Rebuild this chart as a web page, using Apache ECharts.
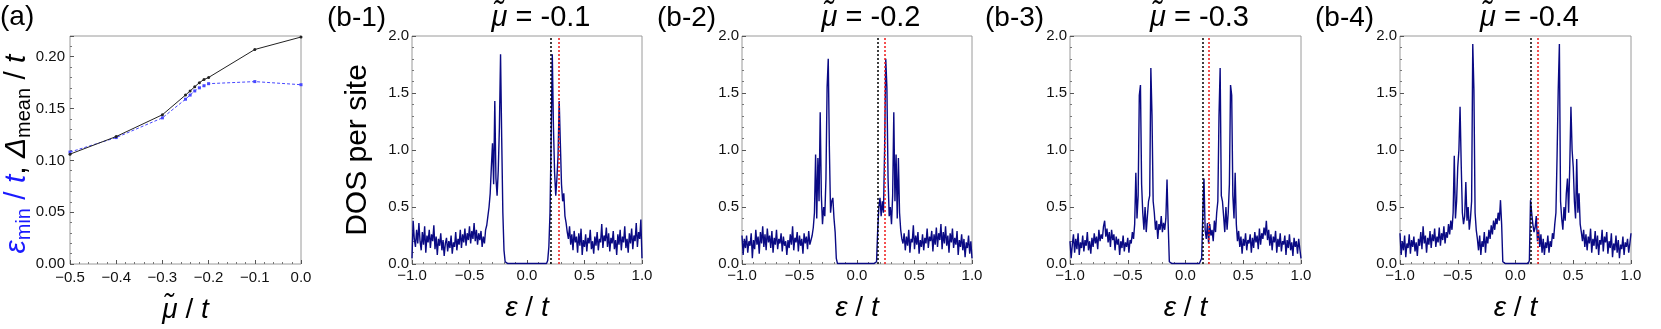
<!DOCTYPE html>
<html>
<head>
<meta charset="utf-8">
<title>DOS panels</title>
<script src="https://cdn.jsdelivr.net/npm/echarts@6/dist/echarts.min.js"></script>
<style>
html, body { margin: 0; padding: 0; background: #fff; }
#main { width: 1661px; height: 329px; }
</style>
</head>
<body>
<div id="main"></div>
<script>
// ---- panel (a): gap vs chemical potential ----
const muValues  = [-0.5, -0.4, -0.3, -0.25, -0.24, -0.23, -0.22, -0.21, -0.2, -0.1, 0.0];
const deltaMean = [0.106, 0.123, 0.144, 0.163, 0.167, 0.171, 0.175, 0.178, 0.180, 0.207, 0.219];
const epsMin    = [0.108, 0.122, 0.141, 0.159, 0.163, 0.167, 0.170, 0.172, 0.174, 0.176, 0.173];

// ---- panels (b): DOS per site, sampled every 0.01 from -1 to 1 ----
const EPS_START = -1, EPS_STEP = 0.01;
const panelMu = ['-0.1', '-0.2', '-0.3', '-0.4'];
const blackLine = [0.207, 0.183, 0.146, 0.131];
const redLine = [0.277, 0.241, 0.203, 0.188];

const dos1 = [
  0.05, 0.38, 0.22, 0.15, 0.30, 0.18, 0.36, 0.20, 0.12, 0.28,
  0.17, 0.33, 0.10, 0.25, 0.19, 0.30, 0.14, 0.26, 0.20, 0.34,
  0.13, 0.24, 0.08, 0.22, 0.16, 0.27, 0.12, 0.21, 0.07, 0.18,
  0.23, 0.11, 0.20, 0.14, 0.25, 0.09, 0.19, 0.15, 0.28, 0.12,
  0.22, 0.17, 0.30, 0.14, 0.26, 0.19, 0.31, 0.16, 0.27, 0.21,
  0.33, 0.18, 0.29, 0.22, 0.36, 0.20, 0.30, 0.17, 0.27, 0.21,
  0.29, 0.15, 0.24, 0.18, 0.30,
  0.34, 0.42, 0.50, 0.62, 0.85, 1.06, 0.70, 1.43, 0.75, 0.60,
  0.82, 1.20, 1.84, 1.10, 0.45, 0.12, 0.02, 0.005,
  0.005, 0.005, 0.005, 0.005, 0.005, 0.005, 0.005, 0.005, 0.005, 0.005,
  0.005, 0.005, 0.005, 0.005, 0.005, 0.005, 0.005, 0.005, 0.005, 0.005,
  0.005, 0.005, 0.005, 0.005, 0.005, 0.005, 0.005, 0.005, 0.005, 0.005,
  0.005, 0.005, 0.005, 0.005,
  0.005, 0.03, 0.15, 0.45, 1.10, 1.84, 1.20, 0.80, 0.60, 0.75,
  0.95, 1.43, 1.06, 0.70, 0.55, 0.62, 0.42, 0.36, 0.28,
  0.22, 0.33, 0.17, 0.26, 0.12, 0.29, 0.19, 0.24, 0.10, 0.27,
  0.16, 0.31, 0.08, 0.21, 0.15, 0.26, 0.11, 0.23, 0.18, 0.30,
  0.13, 0.20, 0.09, 0.24, 0.16, 0.28, 0.12, 0.22, 0.19, 0.35,
  0.14, 0.25, 0.20, 0.32, 0.15, 0.27, 0.11, 0.23, 0.18, 0.29,
  0.13, 0.21, 0.08, 0.26, 0.17, 0.30, 0.12, 0.24, 0.19, 0.33,
  0.14, 0.22, 0.10, 0.27, 0.18, 0.31, 0.13, 0.25, 0.20, 0.36,
  0.15, 0.28, 0.22, 0.39, 0.05
];

const dos2 = [
  0.25, 0.08, 0.22, 0.14, 0.25, 0.10, 0.20, 0.16, 0.27, 0.05,
  0.21, 0.13, 0.30, 0.17, 0.24, 0.09, 0.28, 0.18, 0.33, 0.15,
  0.26, 0.12, 0.31, 0.19, 0.25, 0.14, 0.29, 0.10, 0.23, 0.17,
  0.30, 0.13, 0.22, 0.18, 0.27, 0.11, 0.24, 0.16, 0.20, 0.08,
  0.21, 0.14, 0.26, 0.17, 0.33, 0.12, 0.23, 0.19, 0.28, 0.11,
  0.25, 0.16, 0.22, 0.09, 0.27, 0.18, 0.24, 0.13, 0.29, 0.17,
  0.21,
  0.25, 0.32, 0.45, 0.96, 0.40, 0.93, 0.55, 1.33, 0.60, 0.35,
  0.50, 0.42, 0.75, 1.55, 1.80, 1.00, 0.45, 0.55, 0.58, 0.40,
  0.28, 0.05, 0.005,
  0.005, 0.005, 0.005, 0.005, 0.005, 0.005, 0.005, 0.005, 0.005, 0.005,
  0.005, 0.005, 0.005, 0.005, 0.005, 0.005, 0.005, 0.005, 0.005, 0.005,
  0.005, 0.005, 0.005, 0.005, 0.005, 0.005, 0.005, 0.005, 0.005, 0.005,
  0.005, 0.005, 0.005,
  0.02, 0.30, 0.50, 0.58, 0.42, 0.55, 0.45, 1.00, 1.80, 1.55,
  0.75, 0.42, 0.50, 0.35, 0.60, 1.33, 0.55, 0.96, 0.40, 0.93,
  0.45, 0.30, 0.22,
  0.18, 0.27, 0.12, 0.24, 0.16, 0.30, 0.10, 0.22, 0.19, 0.34,
  0.13, 0.25, 0.17, 0.28, 0.09, 0.21, 0.15, 0.26, 0.12, 0.23,
  0.18, 0.31, 0.14, 0.24, 0.20, 0.29, 0.11, 0.26, 0.17, 0.32,
  0.15, 0.27, 0.21, 0.35, 0.13, 0.28, 0.18, 0.33, 0.16, 0.25,
  0.10, 0.27, 0.19, 0.31, 0.14, 0.23, 0.17, 0.29, 0.08, 0.21,
  0.15, 0.26, 0.12, 0.22, 0.06, 0.19, 0.14, 0.25, 0.09, 0.20,
  0.05
];

const dos3 = [
  0.20, 0.05, 0.17, 0.26, 0.10, 0.22, 0.13, 0.27, 0.08, 0.19,
  0.14, 0.25, 0.11, 0.21, 0.16, 0.28, 0.12, 0.20, 0.09, 0.23,
  0.15, 0.27, 0.18, 0.24, 0.13, 0.30, 0.20, 0.26, 0.22, 0.33,
  0.38, 0.24, 0.31, 0.19, 0.28, 0.15, 0.30, 0.21, 0.26, 0.12,
  0.24, 0.17, 0.22, 0.08, 0.20, 0.14, 0.25, 0.11, 0.19, 0.15,
  0.23, 0.10, 0.21, 0.18, 0.28, 0.22,
  0.35, 0.80, 0.40, 0.60, 1.48, 1.57, 0.70, 0.45, 0.30, 0.50,
  0.28, 0.42, 0.55, 0.60, 1.72, 1.30, 0.55, 0.45, 0.30, 0.38,
  0.22, 0.35, 0.30, 0.42, 0.28, 0.36, 0.30, 0.40, 0.74, 0.35,
  0.02,
  0.005, 0.005, 0.005, 0.005, 0.005, 0.005, 0.005, 0.005, 0.005, 0.005,
  0.005, 0.005, 0.005, 0.005, 0.005, 0.005, 0.005, 0.005, 0.005, 0.005,
  0.005, 0.005, 0.005, 0.005, 0.005, 0.005, 0.005,
  0.05, 0.45, 0.75, 0.30, 0.22, 0.36, 0.18, 0.35, 0.25, 0.30,
  0.20, 0.38, 0.28, 0.45, 0.55, 1.30, 1.72, 0.60, 0.55, 0.42,
  0.28, 0.50, 0.30, 0.45, 0.70, 1.57, 1.48, 0.60, 0.40, 0.80,
  0.35,
  0.20, 0.29, 0.15, 0.24, 0.09, 0.22, 0.16, 0.27, 0.12, 0.21,
  0.18, 0.26, 0.10, 0.23, 0.14, 0.28, 0.19, 0.25, 0.13, 0.31,
  0.17, 0.27, 0.22, 0.32, 0.25, 0.38, 0.21, 0.30, 0.16, 0.26,
  0.12, 0.24, 0.19, 0.29, 0.10, 0.22, 0.15, 0.27, 0.11, 0.20,
  0.17, 0.25, 0.08, 0.21, 0.14, 0.26, 0.12, 0.19, 0.07, 0.23,
  0.15, 0.20, 0.09, 0.22, 0.13, 0.05
];

const dos4 = [
  0.27, 0.08, 0.20, 0.12, 0.25, 0.06, 0.18, 0.14, 0.26, 0.09,
  0.21, 0.15, 0.24, 0.11, 0.19, 0.07, 0.22, 0.16, 0.28, 0.13,
  0.33, 0.18, 0.25, 0.10, 0.23, 0.17, 0.29, 0.14, 0.26, 0.20,
  0.31, 0.15, 0.24, 0.19, 0.32, 0.16, 0.27, 0.21, 0.33, 0.18,
  0.28, 0.23, 0.35, 0.26, 0.38,
  0.30, 0.45, 0.95, 0.40, 0.55, 0.85, 1.00, 1.38, 0.87, 0.45,
  0.35, 0.42, 0.72, 0.38, 0.50, 0.30, 0.40, 0.55, 1.93, 1.53,
  0.45, 0.30, 0.22, 0.12, 0.25, 0.08, 0.20, 0.15, 0.28, 0.10,
  0.24, 0.18, 0.30, 0.22, 0.34, 0.26, 0.38, 0.30, 0.40, 0.35,
  0.45, 0.38, 0.56, 0.35, 0.02,
  0.005, 0.005, 0.005, 0.005, 0.005, 0.005, 0.005, 0.005, 0.005, 0.005,
  0.005, 0.005, 0.005, 0.005, 0.005, 0.005, 0.005, 0.005, 0.005, 0.005,
  0.005, 0.005,
  0.03, 0.56, 0.45, 0.35, 0.28, 0.32, 0.42, 0.20, 0.30, 0.15,
  0.26, 0.10, 0.22, 0.08, 0.19, 0.14, 0.25, 0.10, 0.20, 0.15,
  0.27, 0.22, 0.35, 0.45, 0.95, 1.53, 1.93, 0.55, 0.40, 0.30,
  0.50, 0.38, 0.62, 0.75, 0.45, 0.87, 1.38, 1.00, 0.85, 0.55,
  0.40, 0.92, 0.45, 0.62, 0.35,
  0.28, 0.20, 0.30, 0.15, 0.26, 0.12, 0.24, 0.18, 0.31, 0.10,
  0.22, 0.16, 0.29, 0.13, 0.25, 0.08, 0.21, 0.17, 0.30, 0.11,
  0.24, 0.19, 0.28, 0.09, 0.20, 0.14, 0.27, 0.06, 0.18, 0.12,
  0.25, 0.10, 0.21, 0.05, 0.17, 0.13, 0.24, 0.08, 0.19, 0.15,
  0.22, 0.10, 0.18, 0.27
];

const dosPanels = [dos1, dos2, dos3, dos4];

const FONT = '"Liberation Sans", Arial, sans-serif';
const DOS_COLOR = '#0a0a84';
const FRAME = '#9a9a9a';
const BLUE = '#1a1aff';

function fmt(digits) {
    return v => (v < -1e-9 ? '\u2212' : '') + Math.abs(v).toFixed(digits);
}

function toPairs(xs, ys) {
    return ys.map((y, i) => [xs[i], y]);
}

const grids = [
    { left: 70, top: 36, width: 231, height: 229 },
    { left: 412, top: 36, width: 230, height: 228 },
    { left: 742, top: 36, width: 230, height: 228 },
    { left: 1070, top: 36, width: 231, height: 228 },
    { left: 1400, top: 36, width: 231, height: 228 }
].map(g => Object.assign({ show: true, borderColor: FRAME, borderWidth: 1, backgroundColor: 'transparent' }, g));

const tickStyle = {
    axisLine: { show: false, onZero: false },
    axisTick: { show: true, inside: true, length: 4, lineStyle: { color: '#555' } },
    minorTick: { show: true, splitNumber: 5, length: 2, lineStyle: { color: '#777' } },
    splitLine: { show: false }
};

// axis-name rich styles (ECharts text style: color)
const italicRich = {
    i: { fontFamily: FONT, fontSize: 28, fontStyle: 'italic', color: '#000' },
    n: { fontFamily: FONT, fontSize: 28, color: '#000' }
};
// graphic rich styles (zrender style: fill)
const titleRich = {
    i: { fontFamily: FONT, fontSize: 29, fontStyle: 'italic', fill: '#000' },
    n: { fontFamily: FONT, fontSize: 29, fill: '#000' }
};

const xAxes = [];
const yAxes = [];
const series = [];

// panel (a)
xAxes.push(Object.assign({}, tickStyle, {
    type: 'value', gridIndex: 0, min: -0.5, max: 0, interval: 0.1,
    axisLabel: { formatter: fmt(1), fontFamily: FONT, fontSize: 15, color: '#111', margin: 6 },
    name: '{i|\u03BC\u0303}{n| / }{i|t}', nameLocation: 'middle', nameGap: 32,
    nameTextStyle: { rich: italicRich }
}));
yAxes.push(Object.assign({}, tickStyle, {
    type: 'value', gridIndex: 0, min: 0, max: 0.22, interval: 0.05,
    axisLabel: { formatter: fmt(2), fontFamily: FONT, fontSize: 15, color: '#111', margin: 5, showMaxLabel: false }
}));
series.push({
    type: 'line', xAxisIndex: 0, yAxisIndex: 0,
    data: toPairs(muValues, deltaMean),
    symbol: 'circle', symbolSize: 3,
    itemStyle: { color: '#222' },
    lineStyle: { color: '#222', width: 1 },
    z: 3
});
series.push({
    type: 'line', xAxisIndex: 0, yAxisIndex: 0,
    data: toPairs(muValues, epsMin),
    symbol: 'rect', symbolSize: 3,
    itemStyle: { color: '#4848ff' },
    lineStyle: { color: '#4848ff', width: 1, type: [3, 2] },
    z: 2
});

// panels (b-1) .. (b-4)
dosPanels.forEach((vals, k) => {
    const gi = k + 1;
    xAxes.push(Object.assign({}, tickStyle, {
        type: 'value', gridIndex: gi, min: -1, max: 1, interval: 0.5,
        axisLabel: { formatter: fmt(1), fontFamily: FONT, fontSize: 15, color: '#111', margin: 4 },
        name: '{i|\u03B5}{n| / }{i|t}', nameLocation: 'middle', nameGap: 30,
        nameTextStyle: { rich: italicRich }
    }));
    yAxes.push(Object.assign({}, tickStyle, {
        type: 'value', gridIndex: gi, min: 0, max: 2, interval: 0.5,
        axisLabel: { formatter: fmt(1), fontFamily: FONT, fontSize: 15, color: '#111', margin: 3 },
        name: k === 0 ? 'DOS per site' : '', nameLocation: 'middle', nameRotate: 90, nameGap: 39,
        nameTextStyle: { fontFamily: FONT, fontSize: 30, color: '#000' }
    }));
    series.push({
        type: 'line', xAxisIndex: gi, yAxisIndex: gi,
        data: vals.map((v, i) => [+(EPS_START + i * EPS_STEP).toFixed(2), v]),
        showSymbol: false,
        lineStyle: { color: DOS_COLOR, width: 1.4 },
        markLine: {
            silent: true, symbol: 'none', label: { show: false },
            data: [
                { xAxis: blackLine[k], lineStyle: { color: '#000', type: [2, 2], width: 1.5 } },
                { xAxis: redLine[k], lineStyle: { color: '#f01818', type: [2, 2], width: 1.5 } }
            ]
        }
    });
});

// panel labels, titles, rotated y title of (a)
const subRich = (color) => ({
    i: { fontFamily: FONT, fontSize: 30, fontStyle: 'italic', fill: color, lineHeight: 32, verticalAlign: 'top' },
    n: { fontFamily: FONT, fontSize: 30, fill: color, lineHeight: 32, verticalAlign: 'top' },
    s: { fontFamily: FONT, fontSize: 20, fill: color, lineHeight: 20, padding: [15, 0, 0, 0], verticalAlign: 'bottom' }
});
const blueRich = subRich(BLUE);
const blackRich = subRich('#000');
const graphics = [
    { type: 'text', x: 0, y: 17, style: { text: '(a)', font: '28px ' + FONT, fill: '#000', verticalAlign: 'middle' } },
    {
        type: 'text', x: 18, y: 154, rotation: Math.PI / 2,
        style: {
            text: '{bi|\u03B5}{bs|min}{bn| / }{bi|t}{kn|, }{ki|\u0394}{ks|mean}{kn| / }{ki|t}',
            align: 'center', verticalAlign: 'middle',
            rich: {
                bi: blueRich.i, bn: blueRich.n, bs: blueRich.s,
                ki: blackRich.i, kn: blackRich.n, ks: blackRich.s
            }
        }
    }
];
panelMu.forEach((mu, k) => {
    const g = grids[k + 1];
    graphics.push({
        type: 'text', x: g.left - 85, y: 18,
        style: { text: '(b-' + (k + 1) + ')', font: '28px ' + FONT, fill: '#000', verticalAlign: 'middle' }
    });
    graphics.push({
        type: 'text', x: g.left + g.width / 2 + 14, y: 18,
        style: {
            text: '{i|\u03BC\u0303}{n| = ' + mu + '}',
            align: 'center', verticalAlign: 'middle',
            rich: titleRich
        }
    });
});

const chart = echarts.init(document.getElementById('main'));
chart.setOption({
    animation: false,
    backgroundColor: '#fff',
    grid: grids,
    xAxis: xAxes,
    yAxis: yAxes,
    series: series,
    graphic: graphics
});
</script>
</body>
</html>
